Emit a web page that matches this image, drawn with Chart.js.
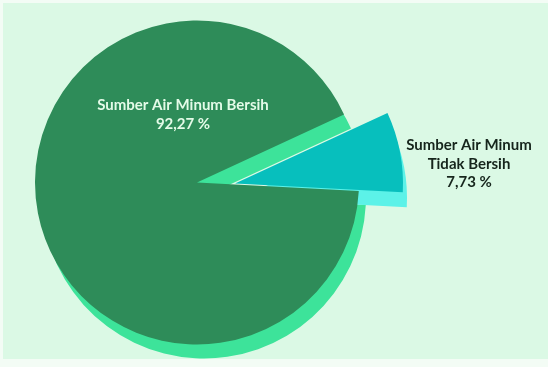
<!DOCTYPE html>
<html>
<head>
<meta charset="utf-8">
<script src="https://cdn.jsdelivr.net/npm/chart.js@4/dist/chart.umd.min.js"></script>
<style>
  html, body { margin: 0; padding: 0; background: #f3fcf5; }
  #wrap { position: absolute; left: 3px; top: 3px; width: 545px; height: 356px; }
</style>
</head>
<body>
<div id="wrap"><canvas id="pieChart" width="545" height="356"></canvas></div>
<script>
// data
var categories = ["Sumber Air Minum Bersih", "Sumber Air Minum Tidak Bersih"];
var values = [92.27, 7.73];
var labelLines = [["Sumber Air Minum Bersih"], ["Sumber Air Minum", "Tidak Bersih"]];

// style
var sliceColors = ["#2e8c59", "#07bfbd"];
var shadowColors = ["#3de39a", "#5cf2e8"];
var shadowOffsets = [[7, 14], [4, 15]];
var explode = [[0, 0], [38, 1]]; // how far a slice is pulled out
var radiusExtra = [0, 6];
var textColors = ["#e4fbe8", "#16251c"];

function pct(v) {
  return v.toFixed(2).replace(".", ",") + " %";
}

// pull the small slice out of the pie
var explodePlugin = {
  id: "explode",
  afterDatasetsUpdate: function (chart) {
    var meta = chart.getDatasetMeta(0);
    meta.data.forEach(function (arc, i) {
      arc.x += explode[i][0];
      arc.y += explode[i][1];
      arc.outerRadius += radiusExtra[i];
    });
  },
};

var shadowPlugin = {
  id: "pieShadow",
  beforeDraw: function (chart) {
    var ctx = chart.ctx;
    ctx.save();
    ctx.fillStyle = "#dbf9e5";
    ctx.fillRect(0, 0, chart.width, chart.height);
    ctx.restore();
  },
  beforeDatasetsDraw: function (chart) {
    var ctx = chart.ctx;
    var meta = chart.getDatasetMeta(0);
    meta.data.forEach(function (arc, i) {
      ctx.save();
      ctx.fillStyle = shadowColors[i];
      ctx.beginPath();
      var x = arc.x + shadowOffsets[i][0];
      var y = arc.y + shadowOffsets[i][1];
      ctx.moveTo(x, y);
      ctx.arc(x, y, arc.outerRadius, arc.startAngle, arc.endAngle);
      ctx.closePath();
      ctx.fill();
      ctx.restore();
    });
  },
};

var labelPlugin = {
  id: "sliceLabels",
  afterDatasetsDraw: function (chart) {
    var ctx = chart.ctx;
    var meta = chart.getDatasetMeta(0);
    var c = meta.data[0];
    // label anchors relative to pie centre: dx, dy of first line, line height
    var anchors = [[-14, -77, 19], [272, -37, 18.5]];
    ctx.save();
    ctx.font = "bold 15px Lato";
    ctx.textAlign = "center";
    ctx.textBaseline = "middle";
    values.forEach(function (v, i) {
      var lines = labelLines[i].concat([pct(v)]);
      ctx.fillStyle = textColors[i];
      lines.forEach(function (line, k) {
        ctx.fillText(line, c.x + anchors[i][0], c.y + anchors[i][1] + k * anchors[i][2]);
      });
    });
    ctx.restore();
  },
};

var ctx = document.getElementById("pieChart").getContext("2d");
var pieChart = new Chart(ctx, {
  type: "pie",
  data: {
    labels: categories,
    datasets: [
      {
        data: values,
        backgroundColor: sliceColors,
        borderWidth: 0,
        clip: false,
      },
    ],
  },
  options: {
    responsive: false,
    animation: false,
    devicePixelRatio: 1,
    rotation: 93,
    radius: 162,
    layout: { padding: { left: 0, right: 157, top: 3, bottom: 0 } },
    plugins: {
      legend: { display: false },
      tooltip: { enabled: false },
    },
  },
  plugins: [explodePlugin, shadowPlugin, labelPlugin],
});
</script>
</body>
</html>
